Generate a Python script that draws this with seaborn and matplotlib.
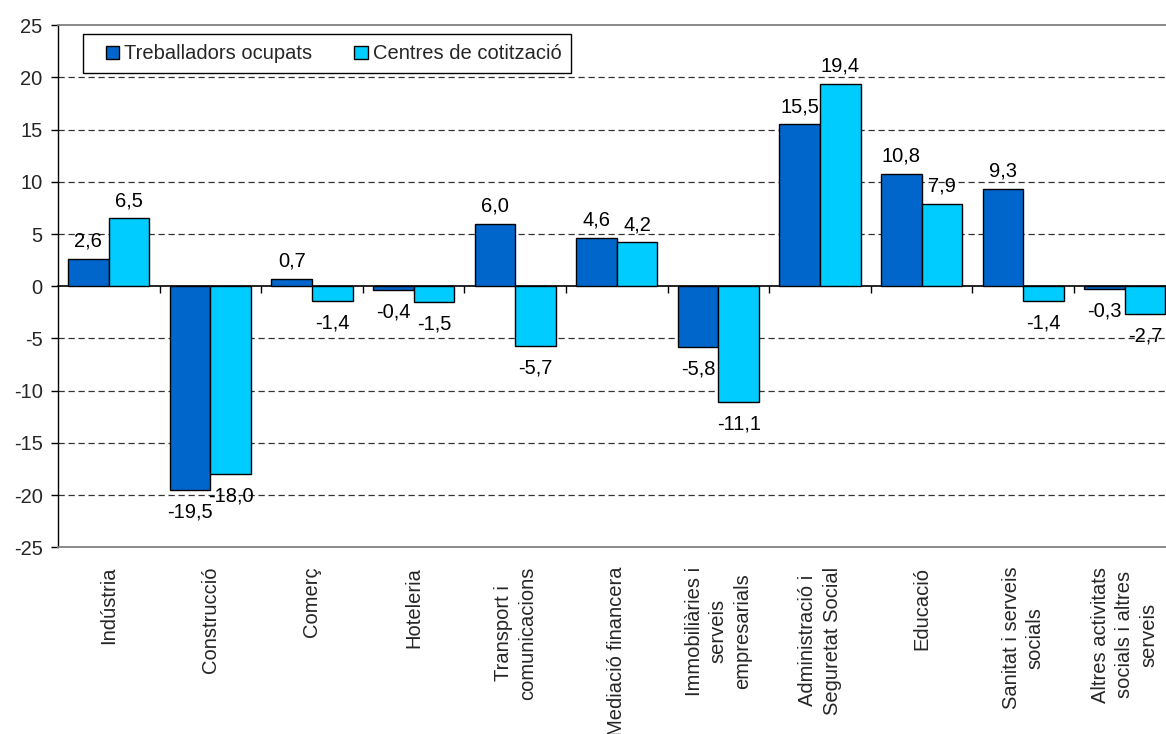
import numpy as np
import pandas as pd
import matplotlib as mpl
mpl.use("Agg")
import matplotlib.pyplot as plt
import matplotlib.patches as mpatches
from matplotlib.legend_handler import HandlerPatch
import seaborn as sns

# ============================================================
# Data
# ============================================================
CATEGORIES = [
    "Indústria",
    "Construcció",
    "Comerç",
    "Hoteleria",
    "Transport i\ncomunicacions",
    "Mediació financera",
    "Immobiliàries i\nserveis\nempresarials",
    "Administració i\nSeguretat Social",
    "Educació",
    "Sanitat i serveis\nsocials",
    "Altres activitats\nsocials i altres\nserveis",
]
SERIES = ["Treballadors ocupats", "Centres de cotització"]
TREBALLADORS = [2.6, -19.5, 0.7, -0.4, 6.0, 4.6, -5.8, 15.5, 10.8, 9.3, -0.3]
CENTRES = [6.5, -18.0, -1.4, -1.5, -5.7, 4.2, -11.1, 19.4, 7.9, -1.4, -2.7]
Y_TICKS = list(range(-25, 30, 5))

COLORS = ["#0066CC", "#00CCFF"]
FONT_SIZE = 14.5

# ============================================================
# Style
# ============================================================
sns.set_theme(style="white")
plt.rcParams["font.family"] = ["Liberation Sans", "DejaVu Sans"]
plt.rcParams["axes.unicode_minus"] = False

df = pd.DataFrame({
    "categoria": CATEGORIES * 2,
    "serie": [SERIES[0]] * len(CATEGORIES) + [SERIES[1]] * len(CATEGORIES),
    "valor": TREBALLADORS + CENTRES,
})

fig = plt.figure(figsize=(11.66, 7.34), dpi=100)
ax = fig.add_axes([0.0497, 0.2544, 0.9585, 0.7112])

sns.barplot(
    data=df, x="categoria", y="valor", hue="serie",
    order=CATEGORIES, hue_order=SERIES, palette=COLORS,
    errorbar=None, width=0.8, edgecolor="black", linewidth=1.0,
    saturation=1, ax=ax,
)


def fmt(v):
    return f"{v:.1f}".replace(".", ",")


# Data labels with decimal comma (a bit more room under negative bars)
for cont, vals in zip(ax.containers, [TREBALLADORS, CENTRES]):
    ax.bar_label(cont, labels=[fmt(v) if v >= 0 else "" for v in vals],
                 padding=6, fontsize=FONT_SIZE, color="black")
    ax.bar_label(cont, labels=[fmt(v) if v < 0 else "" for v in vals],
                 padding=9, fontsize=FONT_SIZE, color="black")

# Axis limits and grid
ax.set_xlim(-0.5, len(CATEGORIES) - 0.5)
ax.set_ylim(Y_TICKS[0], Y_TICKS[-1])
ax.set_yticks(Y_TICKS)
ax.set_axisbelow(True)
ax.yaxis.grid(True, color="#333333", linestyle=(0, (5, 3)), linewidth=0.9)
ax.xaxis.grid(False)
for gl, t in zip(ax.yaxis.get_gridlines(), Y_TICKS):
    if t in (Y_TICKS[0], Y_TICKS[-1], 0):
        gl.set_visible(False)

ax.set_xlabel("")
ax.set_ylabel("")

# Spines
ax.spines["left"].set_color("black")
ax.spines["left"].set_linewidth(1.0)
for s in ["top", "bottom", "right"]:
    ax.spines[s].set_color("#808080")
    ax.spines[s].set_linewidth(1.3)

ax.tick_params(axis="y", direction="out", length=5, width=1, color="black",
               labelsize=FONT_SIZE, pad=6, left=True)
ax.tick_params(axis="x", length=0, labelsize=FONT_SIZE, pad=14)
for lab in ax.get_xticklabels():
    lab.set_rotation(90)
    lab.set_multialignment("center")
    lab.set_linespacing(1.35)

# Category axis crossing at zero, ticks between categories
zero_ax = ax.secondary_xaxis(0.5)
zero_ax.set_xticks(np.arange(0.5, len(CATEGORIES) - 0.5, 1), labels=[])
zero_ax.tick_params(axis="x", direction="in", length=5, width=1,
                    color="black", labelbottom=False, labeltop=False)
for s in zero_ax.spines.values():
    s.set_color("black")
    s.set_linewidth(1.2)


# Legend: small square keys sitting right next to the text
def right_square(legend, orig_handle, xdescent, ydescent, width, height, fontsize):
    side = 0.65 * fontsize
    return mpatches.Rectangle((width - side - xdescent, (height - side) / 2 - ydescent),
                              side, side)


handles, labels = ax.get_legend_handles_labels()
if ax.get_legend() is not None:
    ax.get_legend().remove()
leg = ax.legend(
    handles, labels, ncol=2, loc="upper left",
    bbox_to_anchor=(0.0222, 0.983), fontsize=FONT_SIZE,
    frameon=True, fancybox=False, edgecolor="black", framealpha=1,
    handlelength=1.3, handleheight=0.7, handletextpad=0.25,
    columnspacing=1.45, borderpad=0.5, borderaxespad=0,
    handler_map={mpatches.Rectangle: HandlerPatch(patch_func=right_square)},
)
leg.get_frame().set_linewidth(1.0)

fig.savefig("out.png", dpi=100)
plt.close(fig)
